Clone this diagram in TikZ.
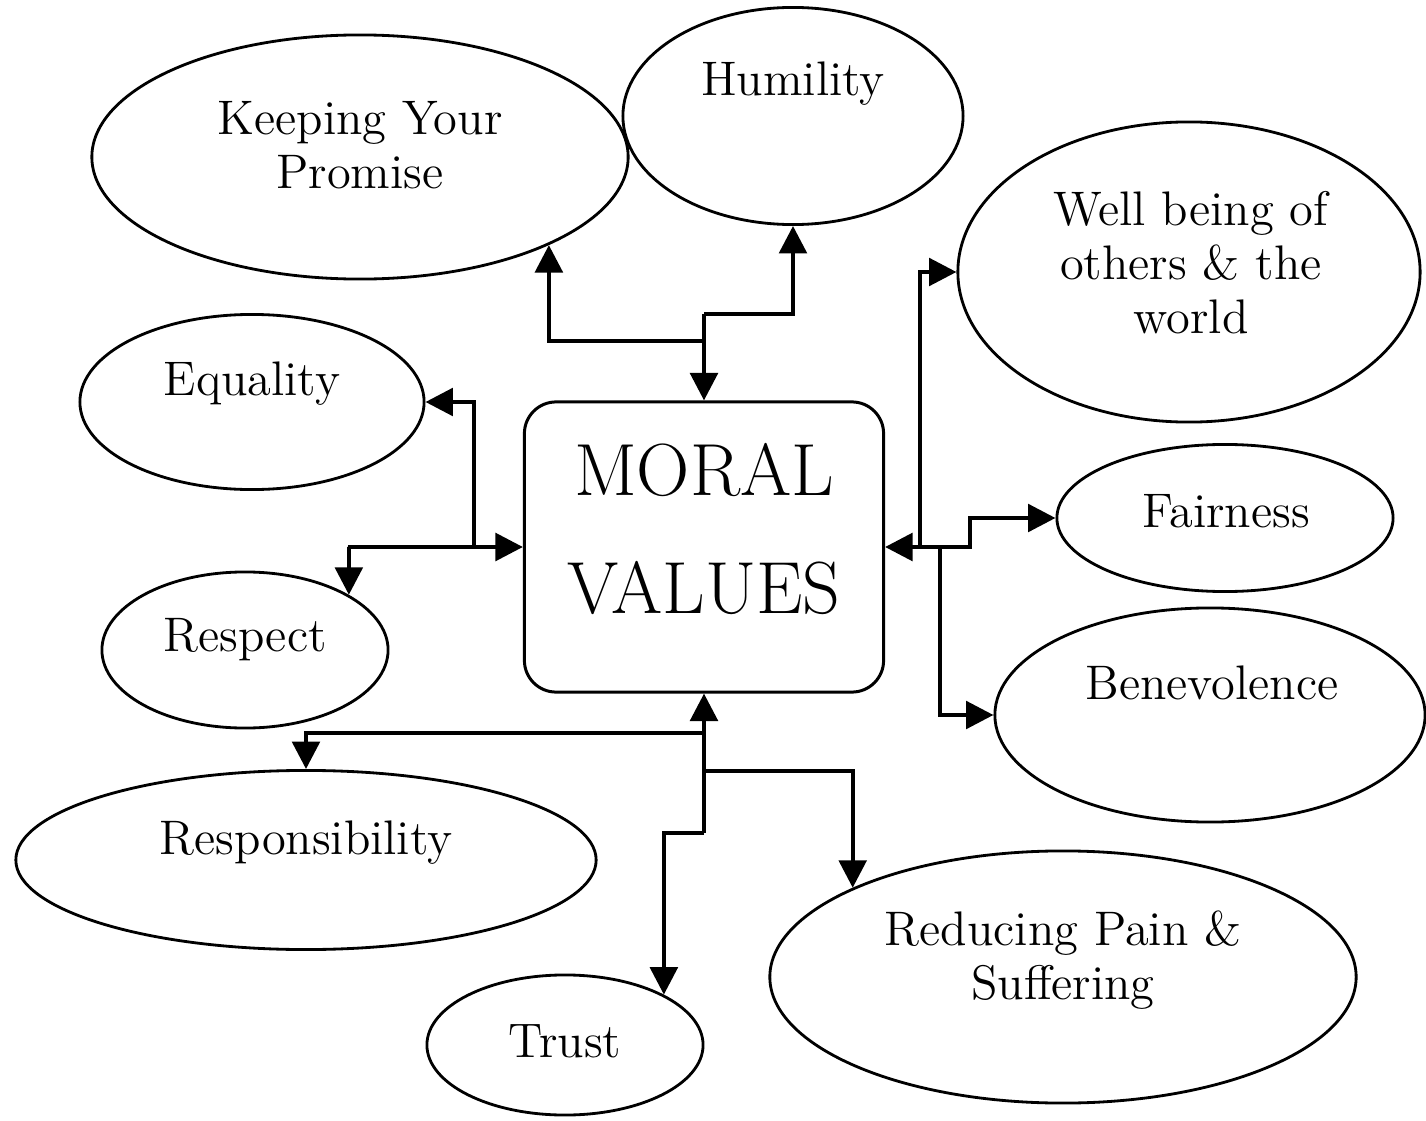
\documentclass[tikz,border=0pt]{standalone}
\usepackage{tikz}
\usetikzlibrary{positioning,shapes.geometric,arrows.meta}

\begin{document}
\begin{tikzpicture}[x=0.01cm,y=-0.01cm,
      oval/.style={draw,ellipse,line width=0.8pt,inner sep=0pt},
      lbl/.style={align=center,font=\fontsize{13.8}{15.4}\selectfont},
      core/.style={draw,rounded corners=9pt,line width=0.85pt,minimum width=3.59cm,minimum height=2.9cm},
      arrow/.style={-{Triangle[length=7.8pt,width=7.8pt]},line width=1.2pt}]
      \useasboundingbox (0,0) rectangle (1426,1121);
      \node[core] (moral) at (704,547) {};
      \node[align=center,font=\fontsize{21}{33.5}\selectfont] (moraltxt) at (704,529) {MORAL\\VALUES};
      \node[oval,minimum width=5.36cm,minimum height=2.44cm] (promise) at (360,157) {};
      \node[lbl] (promisetxt) at (360,145) {Keeping Your\\Promise};
      \node[oval,minimum width=3.40cm,minimum height=2.17cm] (humility) at (793,116) {};
      \node[lbl] (humilitytxt) at (793,84) {Humility};
      \node[oval,minimum width=4.62cm,minimum height=3.00cm] (wellbeing) at (1189,272) {};
      \node[lbl] (wellbeingtxt) at (1191,263) {Well being of\\others \& the\\world};
      \node[oval,minimum width=3.44cm,minimum height=1.75cm] (equality) at (252,402) {};
      \node[lbl] (equalitytxt) at (252,384) {Equality};
      \node[oval,minimum width=3.36cm,minimum height=1.47cm] (fairness) at (1225,518) {};
      \node[lbl] (fairnesstxt) at (1226,511) {Fairness};
      \node[oval,minimum width=2.86cm,minimum height=1.56cm] (respect) at (245,650) {};
      \node[lbl] (respecttxt) at (245,640) {Respect};
      \node[oval,minimum width=4.30cm,minimum height=2.14cm] (benevolence) at (1210,715) {};
      \node[lbl] (benevolencetxt) at (1212,683) {Benevolence};
      \node[oval,minimum width=5.80cm,minimum height=1.79cm] (responsibility) at (306,860) {};
      \node[lbl] (responsibilitytxt) at (306,843) {Responsibility};
      \node[oval,minimum width=5.86cm,minimum height=2.52cm] (reducing) at (1063,977) {};
      \node[lbl] (reducingtxt) at (1063,960) {Reducing Pain \&\\Suffering};
      \node[oval,minimum width=2.76cm,minimum height=1.40cm] (trust) at (565,1045) {};
      \node[lbl] (trusttxt) at (565,1041) {Trust};
      \coordinate (topA) at (704,314);
      \coordinate (topB) at (704,341);
      \coordinate (leftA) at (474,547);
      \coordinate (leftB) at (348,547);
      \coordinate (rightA) at (920,547);
      \coordinate (rightB) at (940,547);
      \coordinate (botA) at (704,733);
      \coordinate (botB) at (704,771);
      \coordinate (botC) at (704,833);
      \draw[arrow] (topA) -- (moral.north);
      \draw[arrow] (topA) -| (humility.south);
      \draw[arrow] (topB) -| (promise.-25);
      \draw[arrow] (leftB) -- (moral.west);
      \draw[arrow] (leftA) |- (equality.east);
      \draw[arrow] (leftB) -| (respect.28);
      \draw[arrow] (rightA) -- (moral.east);
      \draw[arrow] (rightA) |- (wellbeing.west);
      \draw[arrow] (rightA) -- ++(50,0) |- (fairness.west);
      \draw[arrow] (rightB) |- (benevolence.west);
      \draw[arrow] (botC) -- (moral.south);
      \draw[arrow] (botA) -| (responsibility.north);
      \draw[arrow] (botB) -| (reducing.157);
      \draw[arrow] (botC) -| (trust.27);
    \end{tikzpicture}
\end{document}
